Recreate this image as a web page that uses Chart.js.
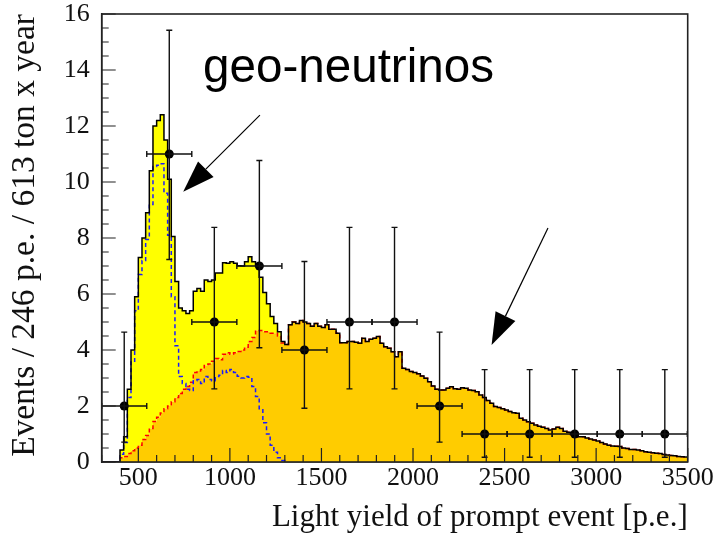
<!DOCTYPE html>
<html>
<head>
<meta charset="utf-8">
<script src="https://cdn.jsdelivr.net/npm/chart.js@4.4.1/dist/chart.umd.min.js"></script>
<style>
  html, body { margin: 0; padding: 0; background: #fff; }
  canvas { display: block; }
</style>
</head>
<body>
<canvas id="c" width="719" height="538"></canvas>
<script>
// Fine binning of the prompt light yield [p.e.]
const binStart = 300;
const binWidth = 20;

// Reactor anti-neutrino expectation per fine bin (orange area, red dashed outline)
const reactor = [
  0, 0, 0, 0, 0,
  0.15, 0.2, 0.3, 0.4, 0.5, 0.6, 0.8, 0.95, 1.2, 1.45,
  1.6, 1.75, 1.9, 2.0, 2.15, 2.3, 2.45, 2.6, 2.7, 2.85,
  3.2, 3.25, 3.3, 3.45, 3.5, 3.6, 3.7, 3.65, 3.85, 3.9,
  3.85, 3.9, 3.95, 4.0, 4.1, 4.3, 4.45, 4.7, 4.7, 4.65,
  4.65, 4.6, 4.6, 4.5, 4.25, 4.2,
  4.9, 5.0, 4.95, 5.05, 5.0, 4.95, 4.85, 4.95, 4.85, 4.8, 4.9,
  4.74, 4.74, 4.6, 4.26, 4.26, 4.3, 4.3, 4.28, 4.24, 4.42,
  4.3, 4.38, 4.42, 4.48, 4.24, 4.12, 4.06, 3.94, 3.76, 3.94,
  3.35, 3.3, 3.23, 3.2, 3.15, 3.07, 2.99, 2.87, 2.71, 2.6,
  2.57, 2.57, 2.63, 2.69, 2.62, 2.6, 2.65, 2.63, 2.57, 2.55,
  2.51, 2.39, 2.3, 2.2, 2.1, 1.98, 1.95, 1.9, 1.86, 1.8,
  1.76, 1.74, 1.56, 1.5, 1.44, 1.38, 1.32, 1.28, 1.24, 1.2,
  1.14, 1.18, 1.24, 1.2, 1.1, 1.06, 0.98, 0.94, 0.9, 0.9,
  0.86, 0.82, 0.79, 0.75, 0.7, 0.64, 0.6, 0.57, 0.56, 0.55,
  0.5, 0.48, 0.45, 0.45, 0.43, 0.4, 0.37, 0.35, 0.33, 0.31,
  0.3, 0.27, 0.25, 0.23, 0.22, 0.2, 0.19, 0.18
];

// Geo-neutrino expectation per fine bin (blue dashed; yellow band on top of reactor)
const geo = [
  0, 0, 0, 0, 0,
  0.28, 0.7, 2.3, 3.6, 5.4, 6.7, 7.2, 7.95, 9.2, 10.55,
  10.6, 10.65, 9.6, 8.1, 5.9, 4.15, 3.05, 2.8, 2.6, 2.55,
  2.9, 2.95, 2.8, 3.05, 2.95, 2.9, 3.05, 3.1, 3.27, 3.2,
  3.3, 3.2, 3.06, 3.0, 3.05, 3.03, 2.7, 2.34, 1.9, 1.4,
  1.0, 0.6, 0.35, 0.15, 0.05
];

// Candidate events in 246 p.e. bins, with Poisson error intervals
const dataCenters = [423, 669, 915, 1161, 1407, 1653, 1899, 2145, 2391, 2637, 2883, 3129, 3375];
const dataCounts  = [2, 11, 5, 7, 4, 5, 5, 2, 1, 1, 1, 1, 1];
const dataLow     = [0.71, 7.23, 2.61, 4.08, 1.92, 2.61, 2.61, 0.71, 0.17, 0.17, 0.17, 0.17, 0.17];
const dataHigh    = [4.64, 15.42, 8.38, 10.77, 7.16, 8.38, 8.38, 4.64, 3.30, 3.30, 3.30, 3.30, 3.30];
const dataHalfWidth = 123;

// Axis texts
const xTitle = 'Light yield of prompt event [p.e.]';
const yTitle = 'Events / 246 p.e. / 613 ton x year';

// Annotation: label and two arrows, anchored in axis units
const noteText = 'geo-neutrinos';
const noteAt = [853, 13.57];
const arrows = [
  { from: [1164, 12.39], to: [745, 9.65] },
  { from: [2737, 8.36], to: [2429, 4.18] }
];

// Step outline: one point per bin edge, last value repeated at the upper edge
function histPoints(values, total) {
  const n = total || values.length;
  const pts = [];
  for (let i = 0; i < n; i++) {
    pts.push({ x: binStart + i * binWidth, y: i < values.length ? values[i] : 0 });
  }
  pts.push({ x: binStart + n * binWidth, y: pts[n - 1].y });
  return pts;
}

const nBins = reactor.length;
const reactorPts = histPoints(reactor);
const geoStackPts = histPoints(geo, nBins);
const geoPts = histPoints(geo);
geoPts.push({ x: geoPts[geoPts.length - 1].x, y: 0 });

const serif = "'Liberation Serif', 'Times New Roman', serif";
const sans = "'Liberation Sans', Arial, sans-serif";

const decorations = {
  id: 'decorations',
  afterDatasetsDraw(chart) {
    const { ctx, scales: { x, y2 } } = chart;
    ctx.save();
    ctx.strokeStyle = '#111';
    ctx.lineWidth = 1.4;
    const cap = 3;
    for (let i = 0; i < dataCenters.length; i++) {
      const cx = x.getPixelForValue(dataCenters[i]);
      const cy = y2.getPixelForValue(dataCounts[i]);
      const xl = x.getPixelForValue(dataCenters[i] - dataHalfWidth);
      const xr = x.getPixelForValue(dataCenters[i] + dataHalfWidth);
      const yl = y2.getPixelForValue(dataLow[i]);
      const yh = y2.getPixelForValue(dataHigh[i]);
      ctx.beginPath();
      ctx.moveTo(cx, yl); ctx.lineTo(cx, yh);
      ctx.moveTo(cx - cap, yl); ctx.lineTo(cx + cap, yl);
      ctx.moveTo(cx - cap, yh); ctx.lineTo(cx + cap, yh);
      ctx.moveTo(xl, cy); ctx.lineTo(xr, cy);
      ctx.moveTo(xl, cy - cap); ctx.lineTo(xl, cy + cap);
      ctx.moveTo(xr, cy - cap); ctx.lineTo(xr, cy + cap);
      ctx.stroke();
    }
    ctx.restore();
  },
  afterDraw(chart) {
    const { ctx, chartArea: a, scales: { x, y } } = chart;
    ctx.save();
    // inward tick marks
    ctx.strokeStyle = '#222';
    ctx.lineWidth = 1.2;
    ctx.beginPath();
    y.ticks.forEach(t => {
      const py = y.getPixelForValue(t.value);
      const len = (t.value % 2 === 0) ? 14 : 7;
      ctx.moveTo(a.left, py); ctx.lineTo(a.left + len, py);
    });
    x.ticks.forEach(t => {
      const px = x.getPixelForValue(t.value);
      const len = (t.value % 500 === 0) ? 14 : 7;
      ctx.moveTo(px, a.bottom); ctx.lineTo(px, a.bottom - len);
    });
    ctx.stroke();
    // frame
    ctx.lineWidth = 1.6;
    ctx.strokeStyle = '#222';
    ctx.strokeRect(a.left, a.top, a.right - a.left, a.bottom - a.top);

    // label
    ctx.fillStyle = '#000';
    ctx.font = '47.6px ' + sans;
    ctx.textAlign = 'left';
    ctx.textBaseline = 'alphabetic';
    ctx.fillText(noteText, x.getPixelForValue(noteAt[0]), y.getPixelForValue(noteAt[1]));

    // arrows
    ctx.strokeStyle = '#000';
    ctx.lineWidth = 1.2;
    arrows.forEach(ar => {
      const tx = x.getPixelForValue(ar.from[0]), ty = y.getPixelForValue(ar.from[1]);
      const px = x.getPixelForValue(ar.to[0]), py = y.getPixelForValue(ar.to[1]);
      const len = Math.hypot(px - tx, py - ty);
      const dx = (px - tx) / len, dy = (py - ty) / len;
      const head = 32, half = 11;
      const bx = px - dx * head, by = py - dy * head;
      ctx.beginPath();
      ctx.moveTo(tx, ty); ctx.lineTo(bx, by);
      ctx.stroke();
      ctx.beginPath();
      ctx.moveTo(px, py);
      ctx.lineTo(bx - dy * half, by + dx * half);
      ctx.lineTo(bx + dy * half, by - dx * half);
      ctx.closePath();
      ctx.fill();
    });
    ctx.restore();
  }
};

new Chart(document.getElementById('c'), {
  type: 'line',
  data: {
    datasets: [
      {
        label: 'reactor',
        data: reactorPts,
        yAxisID: 'y',
        stepped: true,
        fill: 'origin',
        backgroundColor: '#ffcc00',
        borderColor: '#ff0000',
        borderWidth: 1.5,
        borderDash: [4, 3],
        pointRadius: 0,
        order: 10
      },
      {
        label: 'geo band',
        data: geoStackPts,
        yAxisID: 'y',
        stepped: true,
        fill: '-1',
        backgroundColor: '#ffff00',
        borderWidth: 0,
        pointRadius: 0,
        order: 11
      },
      {
        label: 'geo',
        data: geoPts,
        yAxisID: 'y2',
        stepped: true,
        fill: false,
        borderColor: '#1a1aff',
        borderWidth: 1.5,
        borderDash: [4, 3],
        pointRadius: 0,
        order: 5
      },
      {
        label: 'reactor base',
        data: reactorPts,
        yAxisID: 'y3',
        stepped: true,
        fill: false,
        borderWidth: 0,
        borderColor: 'rgba(0,0,0,0)',
        pointRadius: 0,
        order: 2
      },
      {
        label: 'total',
        data: geoStackPts,
        yAxisID: 'y3',
        stepped: true,
        fill: false,
        borderColor: '#000',
        borderWidth: 1.5,
        pointRadius: 0,
        order: 3
      },
      {
        label: 'data',
        data: dataCenters.map((c, i) => ({ x: c, y: dataCounts[i] })),
        yAxisID: 'y2',
        showLine: false,
        pointRadius: 4.5,
        pointBackgroundColor: '#000',
        pointBorderColor: '#000',
        pointBorderWidth: 0,
        order: 0
      }
    ]
  },
  options: {
    responsive: false,
    maintainAspectRatio: false,
    devicePixelRatio: 1,
    animation: false,
    events: [],
    layout: { padding: { left: 0, top: 14, right: 31.3, bottom: 0 } },
    plugins: { legend: { display: false }, tooltip: { enabled: false } },
    scales: {
      x: {
        type: 'linear',
        min: 300,
        max: 3500,
        grid: { display: false },
        border: { display: true, color: '#222', width: 1.5 },
        ticks: {
          stepSize: 100,
          autoSkip: false,
          maxRotation: 0,
          padding: -7,
          color: '#111',
          font: { family: serif, size: 26 },
          callback: v => (v % 500 === 0 ? String(v) : '')
        },
        title: {
          display: true,
          text: xTitle,
          align: 'end',
          color: '#111',
          font: { family: serif, size: 31 },
          padding: { top: 0, bottom: 2 }
        },
        afterFit: s => { s.height = 76; s.paddingLeft = 0; s.paddingRight = 0; }
      },
      y: {
        type: 'linear',
        stacked: true,
        min: 0,
        max: 16,
        grid: { display: false },
        border: { display: true, color: '#222', width: 1.5 },
        ticks: {
          stepSize: 0.5,
          autoSkip: false,
          padding: 4,
          color: '#111',
          font: { family: serif, size: 26 },
          callback: v => (v % 2 === 0 ? String(v) : '')
        },
        title: {
          display: true,
          text: yTitle,
          align: 'end',
          color: '#111',
          font: { family: serif, size: 33.5 },
          padding: { top: 5, bottom: 0 }
        },
        afterFit: s => { s.width = 101.7; s.paddingTop = 0; s.paddingBottom = 0; }
      },
      y2: { type: 'linear', display: false, min: 0, max: 16 },
      y3: { type: 'linear', display: false, stacked: true, min: 0, max: 16 }
    }
  },
  plugins: [decorations]
});
</script>
</body>
</html>
